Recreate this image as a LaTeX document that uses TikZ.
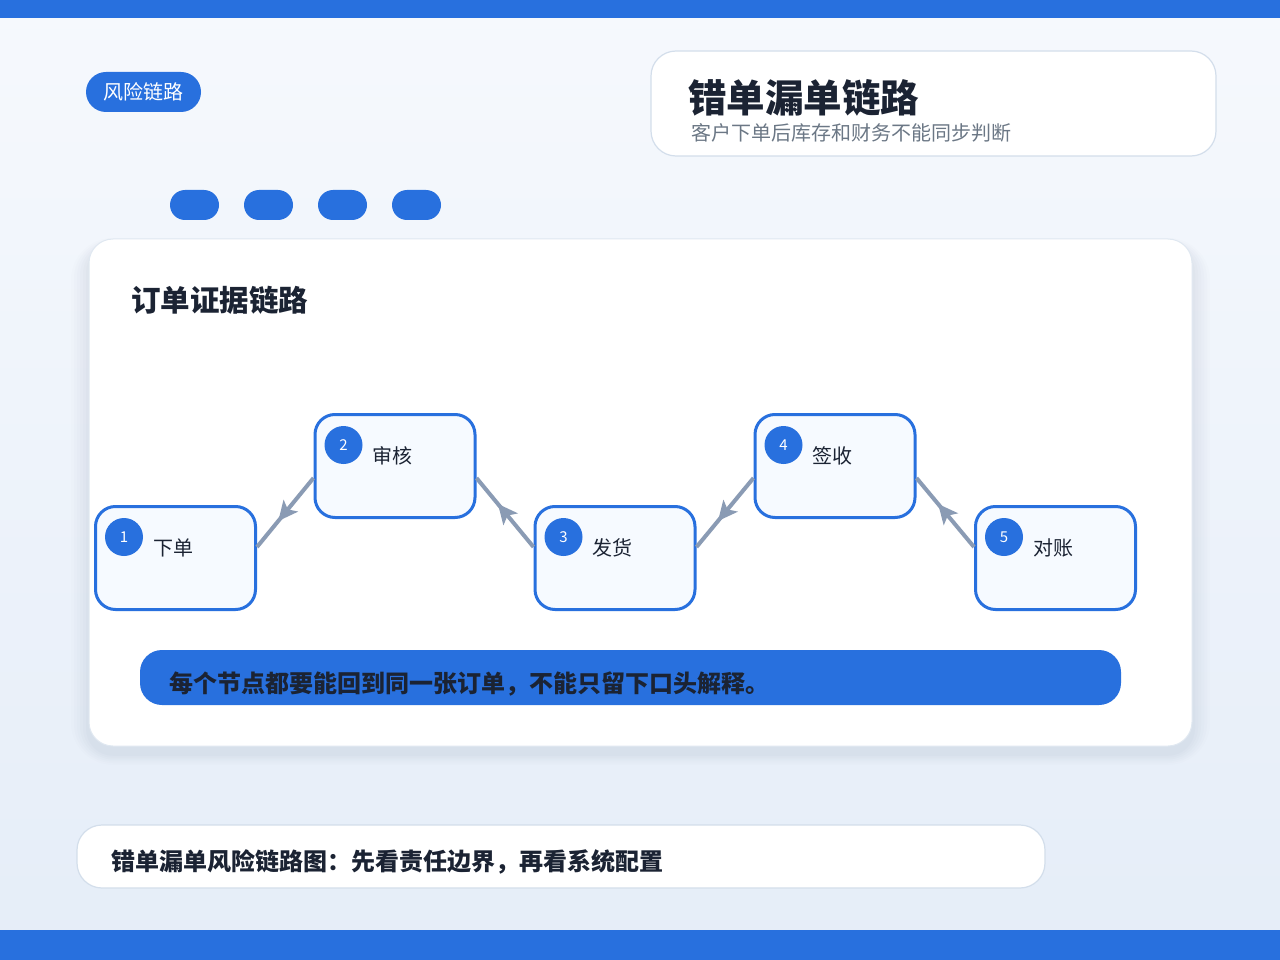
\documentclass[tikz,border=0pt]{standalone}
\usepackage{fontspec}
\setmainfont{Noto Sans CJK SC}
\newfontfamily\cjk{Noto Sans CJK SC}
\usetikzlibrary{arrows.meta,decorations.markings,calc}
\definecolor{brand}{HTML}{2870DE}
\definecolor{ink}{HTML}{1B2333}
\definecolor{subgray}{HTML}{6B7785}
\definecolor{edgegray}{HTML}{D3DEEB}
\definecolor{linkgray}{HTML}{8A9BB4}
\definecolor{nodefill}{HTML}{F6FAFF}
\definecolor{bgtop}{HTML}{F6F9FD}
\definecolor{bgbot}{HTML}{E5EDF8}
\definecolor{shadowc}{HTML}{5A6E8C}
\tikzset{
  stepbox/.style={draw=brand, line width=3pt, fill=nodefill, rounded corners=20pt,
    minimum width=160pt, minimum height=103pt, inner sep=0pt},
  badge/.style={circle, fill=brand, text=white, minimum size=38pt, inner sep=0pt, font=\fontsize{15}{16}\selectfont},
  steplabel/.style={anchor=west, inner sep=0pt, text=ink, font=\fontsize{20}{22}\selectfont},
  link/.style={draw=linkgray, line width=4pt, postaction={decorate},
    decoration={markings, mark=at position 0.5 with {\fill[linkgray] (-11pt,0pt) -- (9pt,9.5pt) -- (4pt,0pt) -- (9pt,-9.5pt) -- cycle;}}},
  panel/.style={fill=white, draw=edgegray, line width=1.2pt},
  dotpill/.style={fill=brand, rounded corners=15pt, minimum width=49pt, minimum height=30pt, inner sep=0pt},
}
\begin{document}
\begin{tikzpicture}[x=1pt,y=-1pt]
\useasboundingbox (0,0) rectangle (1280,960);
% background
\shade[top color=bgtop, bottom color=bgbot] (0,0) rectangle (1280,960);
\fill[brand] (0,0) rectangle (1280,18);
\fill[brand] (0,930) rectangle (1280,960);
% tag pill
\node[fill=brand, rounded corners=20pt, minimum width=115pt, minimum height=40pt, inner sep=0pt,
  text=white, font=\fontsize{20}{22}\selectfont] (tag) at (143.5,92) {风险链路};
% title panel
\draw[panel, rounded corners=25pt] (651,51) rectangle (1216,156);
\node[anchor=west, inner sep=0pt, text=ink, font=\bfseries\fontsize{38.5}{42}\selectfont] (title) at (688,98) {错单漏单链路};
\node[anchor=west, inner sep=0pt, text=subgray, font=\fontsize{20}{22}\selectfont] (subtitle) at (691,133) {客户下单后库存和财务不能同步判断};
% dots
\node[dotpill] (d1) at (194.5,205) {};
\node[dotpill] (d2) at (268.5,205) {};
\node[dotpill] (d3) at (342.5,205) {};
\node[dotpill] (d4) at (416.5,205) {};
% main card shadow
\foreach \i/\o in {18/0.012,15/0.014,12/0.016,9/0.018,6/0.02,3/0.022}{
  \fill[shadowc, opacity=\o, rounded corners=24pt+\i*1pt] (89-\i,239+8-\i*0.5) rectangle (1192+\i,746+8+\i*0.6);
}
\draw[fill=white, draw=edgegray!70, line width=1pt, rounded corners=24pt] (89,239) rectangle (1192,746);
\node[anchor=west, inner sep=0pt, text=ink, font=\bfseries\fontsize{29.5}{32}\selectfont] (cardtitle) at (131,300) {订单证据链路};
% steps
\node[stepbox] (n1) at (175.5,558) {};
\node[stepbox] (n2) at (395,466) {};
\node[stepbox] (n3) at (615,558) {};
\node[stepbox] (n4) at (835,466) {};
\node[stepbox] (n5) at (1055.5,558) {};
\foreach \n/\k/\t in {n1/1/下单, n2/2/审核, n3/3/发货, n4/4/签收, n5/5/对账}{
  \node[badge] (\n b) at ($(\n.north west)+(30,32)$) {\k};
  \node[steplabel] (\n t) at ($(\n.north west)+(59,43)$) {\t};
}
% connectors
\draw[link] ($(n1.north east)+(0,42)$) -- ($(n2.north west)+(0,65)$);
\draw[link] ($(n2.north east)+(0,65)$) -- ($(n3.north west)+(0,42)$);
\draw[link] ($(n3.north east)+(0,42)$) -- ($(n4.north west)+(0,65)$);
\draw[link] ($(n4.north east)+(0,65)$) -- ($(n5.north west)+(0,42)$);
% banner
\fill[brand, rounded corners=22pt] (140,650) rectangle (1121,705);
\node[anchor=west, inner sep=0pt, text=ink, font=\bfseries\fontsize{24}{26}\selectfont] (banner) at (169,684) {每个节点都要能回到同一张订单，不能只留下口头解释。};
% footer caption
\draw[panel, rounded corners=25pt] (77,825) rectangle (1045,888);
\node[anchor=west, inner sep=0pt, text=ink, font=\bfseries\fontsize{24}{26}\selectfont] (caption) at (111,862) {错单漏单风险链路图：先看责任边界，再看系统配置};
\end{tikzpicture}
\end{document}
